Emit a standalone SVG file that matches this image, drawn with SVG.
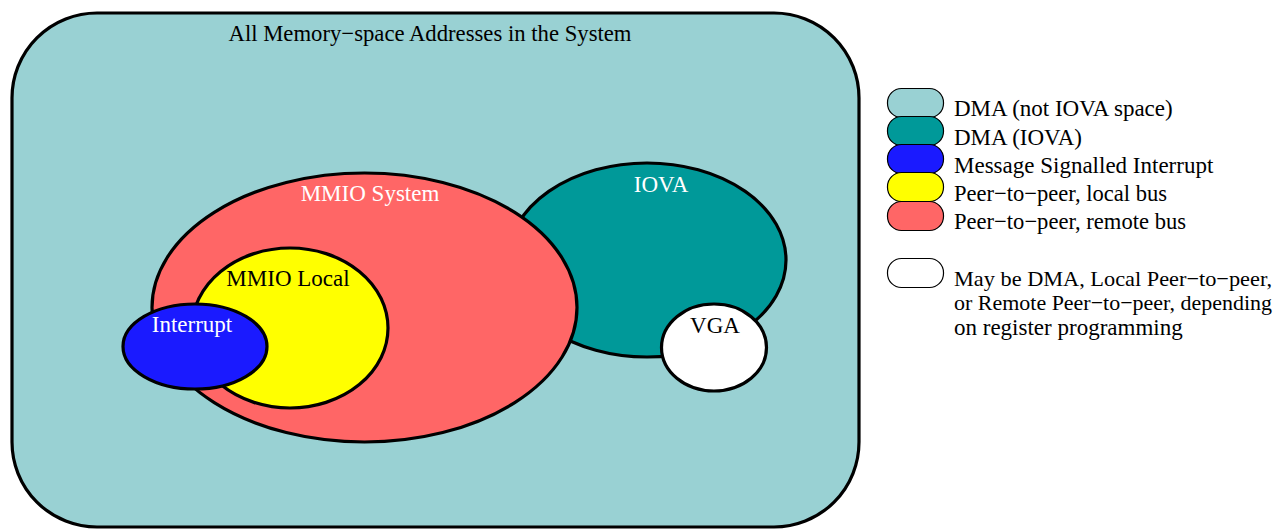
<svg xmlns="http://www.w3.org/2000/svg" width="1284" height="529" viewBox="0 0 1284 529">
<style>
text{font-family:"Liberation Serif","Times New Roman",serif;font-size:23px}
.w{fill:#ffffff}
.k{fill:#000000}
.mid{text-anchor:middle}
.sm{font-size:22px}
.big{stroke:#000;stroke-width:3.2}
.pill{stroke:#000;stroke-width:1.2}
</style>
<rect width="1284" height="529" fill="#ffffff"/>
<g id="all-memory">
<rect x="12" y="13" width="847" height="514" rx="85" ry="85" fill="#99d1d3" class="big"/>
<text x="430" y="41" class="mid k" textLength="403" lengthAdjust="spacingAndGlyphs">All Memory−space Addresses in the System</text>
</g>
<g id="iova">
<ellipse cx="647" cy="260" rx="139" ry="97" fill="#009999" class="big"/>
<text x="661" y="192" class="mid w">IOVA</text>
</g>
<g id="mmio-system">
<ellipse cx="364.5" cy="307.5" rx="212.5" ry="134.5" fill="#ff6666" class="big"/>
<text x="370" y="201" class="mid w">MMIO System</text>
</g>
<g id="mmio-local">
<ellipse cx="290" cy="328" rx="98" ry="80" fill="#ffff00" class="big"/>
<text x="288" y="286" class="mid k">MMIO Local</text>
</g>
<g id="interrupt">
<ellipse cx="195" cy="346.5" rx="72" ry="42.5" fill="#1a1aff" class="big"/>
<text x="192" y="332" class="mid w">Interrupt</text>
</g>
<g id="vga">
<ellipse cx="714" cy="347.5" rx="52.5" ry="43.5" fill="#ffffff" class="big"/>
<text x="715" y="333" class="mid k">VGA</text>
</g>
<g id="connectors"></g>
<g id="legend">
<g id="legend-dma">
<rect x="887.5" y="88.5" width="56" height="29" rx="14" ry="14" fill="#99d1d3" class="pill"/>
<text x="954" y="116" class="k">DMA (not IOVA space)</text>
</g>
<g id="legend-iova">
<rect x="887.5" y="116.5" width="56" height="29" rx="14" ry="14" fill="#009999" class="pill"/>
<text x="954" y="145" class="k">DMA (IOVA)</text>
</g>
<g id="legend-msi">
<rect x="887.5" y="144.5" width="56" height="29" rx="14" ry="14" fill="#1a1aff" class="pill"/>
<text x="954" y="173" class="k">Message Signalled Interrupt</text>
</g>
<g id="legend-local">
<rect x="887.5" y="172.5" width="56" height="29" rx="14" ry="14" fill="#ffff00" class="pill"/>
<text x="954" y="201" class="k" textLength="213" lengthAdjust="spacingAndGlyphs">Peer−to−peer, local bus</text>
</g>
<g id="legend-remote">
<rect x="887.5" y="201.5" width="56" height="29" rx="14" ry="14" fill="#ff6666" class="pill"/>
<text x="954" y="229" class="k" textLength="232" lengthAdjust="spacingAndGlyphs">Peer−to−peer, remote bus</text>
</g>
<g id="legend-white">
<rect x="887.5" y="258.5" width="56" height="29" rx="14" ry="14" fill="#ffffff" class="pill"/>
<text x="954" y="286" class="k sm" textLength="318" lengthAdjust="spacingAndGlyphs">May be DMA, Local Peer−to−peer,</text>
<text x="954" y="310" class="k sm" textLength="318" lengthAdjust="spacingAndGlyphs">or Remote Peer−to−peer, depending</text>
<text x="954" y="335" class="k">on register programming</text>
</g>
</g>
</svg>
